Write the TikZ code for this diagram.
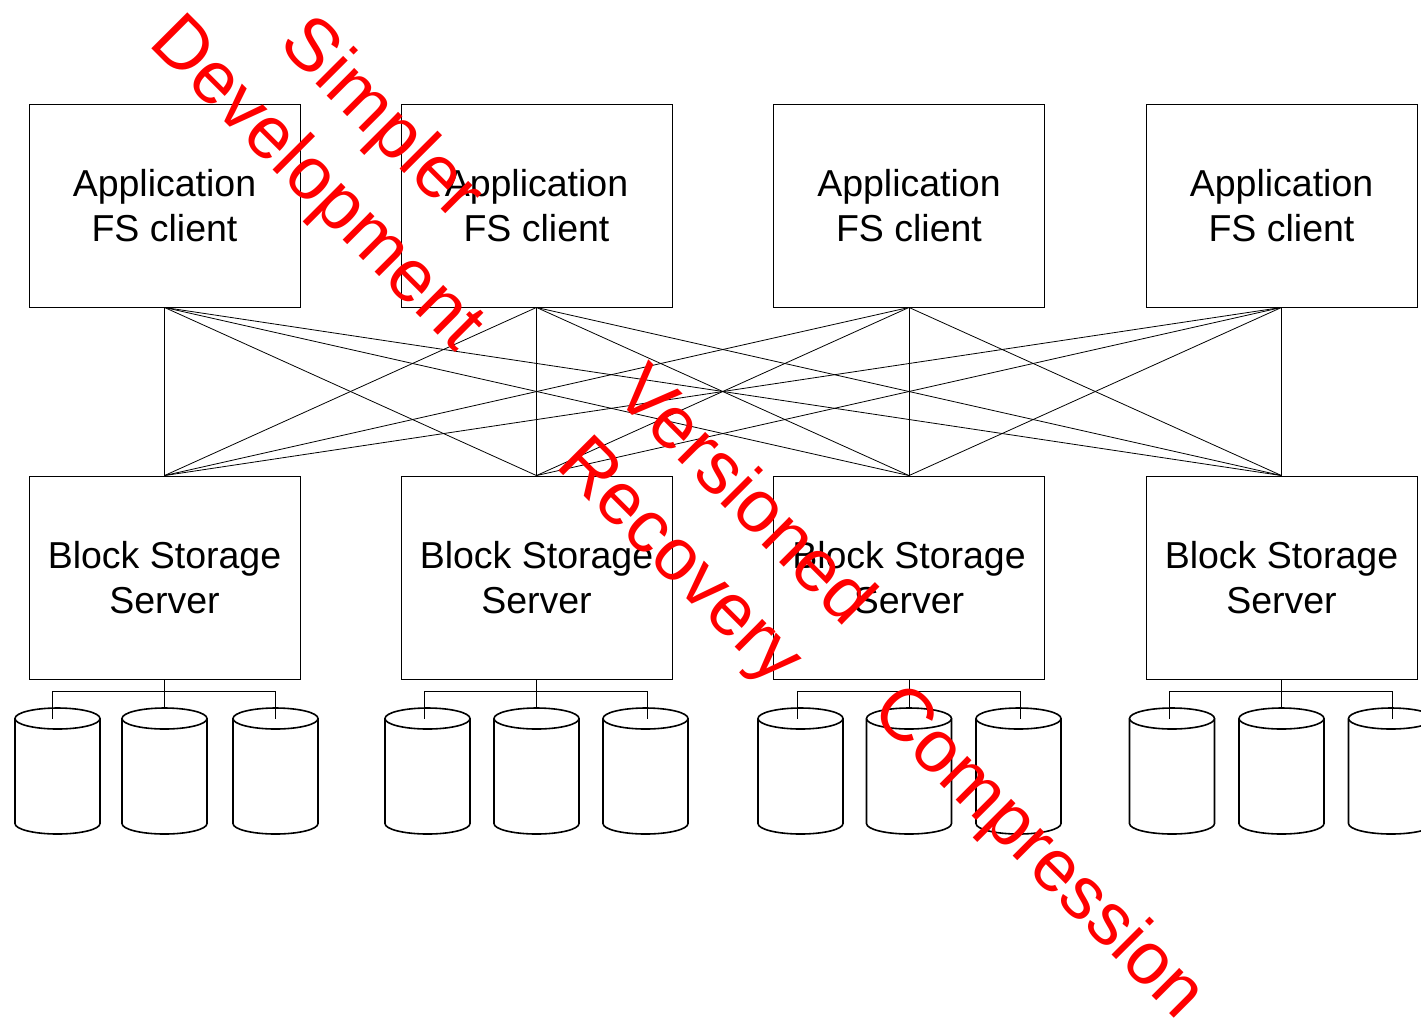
\documentclass[tikz,border=0pt]{standalone}
\usepackage{fontspec}
\setmainfont{Liberation Sans}
\begin{document}
\begin{tikzpicture}[x=1pt,y=-1pt,
  box/.style={draw, line width=0.9pt, minimum width=271pt, minimum height=203pt,
    inner sep=0pt, align=center, font=\fontsize{37.5}{45}\selectfont},
  link/.style={line width=0.8pt},
  disk/.style={draw, fill=white, line width=1.6pt},
  note/.style={text=red, rotate=-45, anchor=base, inner sep=0pt,
    font=\fontsize{74}{88}\selectfont}]

\useasboundingbox (0,0) rectangle (1421,1021);

% client and server boxes
\foreach \i/\x in {1/164.5,2/536.5,3/909,4/1281.5} {
  \node[box] (app\i) at (\x,205.5) {Application\\FS client};
  \node[box] (bss\i) at (\x,577.5) {Block Storage\\Server};
}

% every client talks to every server
\foreach \i in {1,...,4}
  \foreach \j in {1,...,4}
    \draw[link] (app\i.south) -- (bss\j.north);

% three disks under each server, wired through a small bus
\foreach \i/\x/\da/\dc in {1/164.5/-107/111, 2/536.5/-109/109,
                           3/909/-108.5/109.5, 4/1281.5/-109.5/109.5} {
  \foreach \k/\dx in {1/\da,2/0,3/\dc} {
    \pgfmathsetmacro{\cx}{\x+\dx}
    \pgfmathsetmacro{\lx}{\cx-42.5}
    \pgfmathsetmacro{\rx}{\cx+42.5}
    \fill[white] (\lx,718.5) -- (\lx,823.5)
      arc[start angle=180, end angle=360, x radius=42.5pt, y radius=10.5pt]
      -- (\rx,718.5) -- cycle;
    \draw[line width=1.6pt] (\lx,718.5) -- (\lx,823.5)
      arc[start angle=180, end angle=360, x radius=42.5pt, y radius=10.5pt]
      -- (\rx,718.5);
    \draw[disk] (\cx,718.5) ellipse[x radius=42.5pt, y radius=10.5pt];
    \coordinate (top\i\k) at (\cx,708);
  }
  \pgfmathsetmacro{\bl}{\x-112}
  \pgfmathsetmacro{\br}{\x+111}
  \coordinate (busL\i) at (\bl,691.5);
  \coordinate (busR\i) at (\br,691.5);
  \coordinate (dropL\i) at (\bl,718.5);
  \coordinate (dropR\i) at (\br,718.5);
  \draw[link] (bss\i.south) -- (top\i2);
  \draw[link] (dropL\i) -- (busL\i) -- (busR\i) -- (dropR\i);
}

% diagonal red captions
\node[note] (simpler) at (366,134.6) {Simpler};
\node[note] (devel)   at (301.6,199) {Development};
\node[note] (vers)    at (729.3,512) {Versioned};
\node[note] (recov)   at (664.6,576.6) {Recovery};
\node[note] (compr)   at (1024,867.5) {Compression};
\end{tikzpicture}
\end{document}
